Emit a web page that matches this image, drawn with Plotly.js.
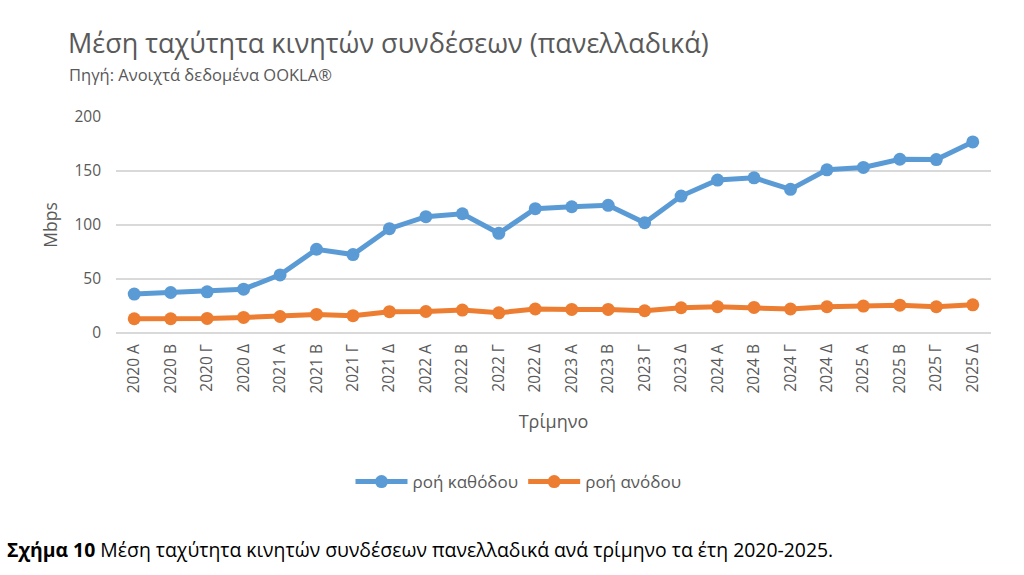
<!DOCTYPE html>
<html>
<head>
<meta charset="utf-8">
<script src="https://cdn.plot.ly/plotly-3.0.1.min.js"></script>
<style>html,body{margin:0;padding:0;background:#fff;}#chart{width:1024px;height:575px;}</style>
</head>
<body>
<div id="chart"></div>
<script>
const quarters = ["2020 Α","2020 Β","2020 Γ","2020 Δ","2021 Α","2021 Β","2021 Γ","2021 Δ","2022 Α","2022 Β","2022 Γ","2022 Δ","2023 Α","2023 Β","2023 Γ","2023 Δ","2024 Α","2024 Β","2024 Γ","2024 Δ","2025 Α","2025 Β","2025 Γ","2025 Δ"];
const downloadMbps = [36.0,37.5,38.1,40.6,53.8,77.5,72.6,96.6,107.7,110.4,92.3,115.1,116.9,118.2,102.1,126.8,141.6,143.7,133.0,151.1,153.3,160.9,160.6,176.9];
const uploadMbps = [13.2,13.2,13.5,14.4,15.3,17.2,16.0,19.7,19.9,21.2,18.7,22.2,21.8,21.8,20.6,23.4,24.3,23.7,22.2,24.3,24.9,25.8,24.3,26.1];
const seriesNames = ["ροή καθόδου","ροή ανόδου"];
const yTicks = [0,50,100,150,200];

const FONT = "Open Sans, Noto Sans, sans-serif";
const GRAY = "#595959";

const traces = [
  {x: quarters, y: downloadMbps, name: seriesNames[0], type: "scatter", mode: "lines+markers",
   line: {color: "#5B9BD5", width: 5}, marker: {color: "#5B9BD5", size: 13}},
  {x: quarters, y: uploadMbps, name: seriesNames[1], type: "scatter", mode: "lines+markers",
   line: {color: "#ED7D31", width: 5}, marker: {color: "#ED7D31", size: 13}}
];

const layout = {
  width: 1024, height: 575, autosize: false,
  paper_bgcolor: "#fff", plot_bgcolor: "#fff",
  margin: {l: 116, r: 33, t: 117, b: 242},
  font: {family: FONT, color: GRAY, size: 15},
  showlegend: true,
  legend: {orientation: "h", x: 0.46, xanchor: "center", y: -0.69, yanchor: "middle",
           font: {family: FONT, size: 17, color: GRAY}, itemwidth: 52},
  xaxis: {type: "category", range: [-0.5, 23.5], tickangle: -90, showgrid: false,
          showline: false, zeroline: false, ticks: "", ticklabelstandoff: 7,
          tickfont: {family: FONT, size: 15.5, color: GRAY},
          title: {text: "Τρίμηνο", font: {family: FONT, size: 18, color: GRAY}, standoff: 22}},
  yaxis: {range: [0, 200], tickvals: yTicks, showgrid: true, gridcolor: "#D9D9D9", gridwidth: 1.3,
          zeroline: true, zerolinecolor: "#D9D9D9", zerolinewidth: 1.3, showline: false, ticks: "",
          ticklabelstandoff: 14, tickfont: {family: FONT, size: 15.5, color: GRAY},
          title: {text: "Mbps", font: {family: FONT, size: 17.5, color: GRAY}, standoff: 12}},
  annotations: [
    {text: "Μέση ταχύτητα κινητών συνδέσεων (πανελλαδικά)", xref: "paper", yref: "paper",
     x: (66-116)/875, y: (333-42)/216.6, xanchor: "left", yanchor: "middle", showarrow: false,
     font: {family: FONT, size: 27, color: GRAY}},
    {text: "Πηγή: Ανοιχτά δεδομένα OOKLA®", xref: "paper", yref: "paper",
     x: (67-116)/875, y: (333-74)/216.6, xanchor: "left", yanchor: "middle", showarrow: false,
     font: {family: FONT, size: 16.5, color: GRAY}},
    {text: "<b>Σχήμα 10</b> Μέση ταχύτητα κινητών συνδέσεων πανελλαδικά ανά τρίμηνο τα έτη 2020-2025.",
     xref: "paper", yref: "paper", x: (5-116)/875, y: (333-550)/216.6, xanchor: "left", yanchor: "middle",
     showarrow: false, font: {family: FONT, size: 19.4, color: "#000"}}
  ]
};

Plotly.newPlot("chart", traces, layout, {displayModeBar: false, staticPlot: true});
</script>
</body>
</html>
